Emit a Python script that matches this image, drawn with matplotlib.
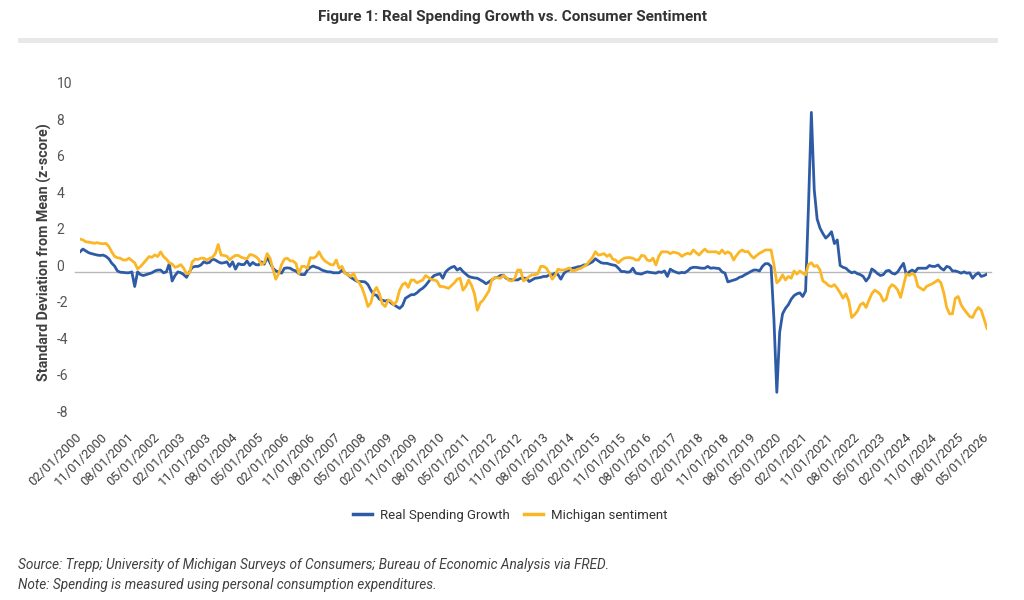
import matplotlib
matplotlib.use('Agg')
import matplotlib.pyplot as plt
from matplotlib.lines import Line2D
from matplotlib.patches import Rectangle
from matplotlib.transforms import ScaledTranslation

plt.rcParams['font.family'] = ['Roboto', 'DejaVu Sans']

# monthly z-scores, 02/2000 .. 05/2026
spending = [
    1.1, 1.25, 1.15, 1.05, 1.0, 0.96, 0.92, 0.9, 0.92, 0.85, 0.72,  # 2000
    0.48, 0.32, 0.05, -0.02, -0.03, -0.05, -0.05, 0.0, -0.8, 0.0, -0.15, -0.2,
    -0.15, -0.1, -0.05, 0.05, 0.1, 0.1, -0.05, 0.0, 0.45, -0.5, -0.2, 0.0,
    -0.05, -0.15, -0.3, 0.0, 0.25, 0.3, 0.3, 0.38, 0.55, 0.48, 0.52, 0.7,
    0.65, 0.55, 0.48, 0.5, 0.55, 0.3, 0.55, 0.15, 0.45, 0.4, 0.4, 0.6,
    0.35, 0.52, 0.4, 0.38, 0.55, 0.42, 0.8, 0.5, 0.2, 0.05, 0.0, -0.07,  # 2005
    0.2, 0.22, 0.2, 0.1, 0.05, -0.1, -0.15, -0.15, 0.1, 0.25, 0.32, 0.25,
    0.2, 0.1, 0.05, 0.0, 0.0, -0.05, -0.05, -0.05, 0.1, -0.05, -0.15, -0.3,
    -0.4, -0.5, -0.53, -0.53, -0.55, -0.7, -1.0, -1.25, -1.28, -1.5, -1.55, -1.6,
    -1.55, -1.7, -1.8, -1.9, -2.0, -1.85, -1.45, -1.35, -1.25, -1.25, -1.15, -1.0,
    -0.9, -0.75, -0.55, -0.35, -0.2, -0.15, -0.1, -0.35, 0.0, 0.15, 0.25, 0.3,  # 2010
    0.1, 0.2, 0.02, -0.12, -0.25, -0.3, -0.33, -0.35, -0.44, -0.53, -0.65, -0.55,
    -0.44, -0.33, -0.3, -0.2, -0.18, -0.35, -0.42, -0.44, -0.44, -0.44, -0.35, -0.35,
    -0.35, -0.53, -0.44, -0.35, -0.33, -0.3, -0.25, -0.25, -0.16, -0.16, -0.07, -0.15,
    -0.4, -0.1, 0.05, 0.1, 0.2, 0.23, 0.28, 0.3, 0.38, 0.38, 0.47, 0.55,
    0.72, 0.6, 0.5, 0.47, 0.47, 0.42, 0.38, 0.35, 0.2, 0.02, 0.02, -0.02,  # 2015
    0.0, 0.2, -0.07, -0.1, -0.12, -0.05, 0.0, -0.03, -0.05, -0.07, 0.0, -0.03,
    0.05, -0.25, 0.15, 0.05, -0.02, -0.07, -0.03, -0.05, 0.05, 0.2, 0.25, 0.25,
    0.22, 0.2, 0.2, 0.3, 0.2, 0.22, 0.2, 0.18, 0.0, -0.07, -0.55, -0.5,
    -0.45, -0.4, -0.3, -0.25, -0.15, -0.07, 0.02, 0.1, 0.1, 0.05, 0.3, 0.45,
    0.45, 0.3, -2.6, -6.6, -3.3, -2.3, -2.0, -1.8, -1.5, -1.3, -1.2, -1.15,  # 2020
    -1.35, -1.05, 3.6, 8.74, 4.5, 2.9, 2.4, 2.1, 1.85, 2.0, 2.2, 1.55,
    1.75, 0.35, 0.25, 0.2, 0.05, -0.05, 0.0, -0.1, -0.15, -0.25, -0.5, -0.3,
    0.16, 0.05, -0.1, -0.2, -0.15, 0.05, 0.08, -0.07, -0.12, 0.0, 0.25, 0.47,
    -0.16, 0.0, 0.1, 0.0, 0.2, 0.2, 0.2, 0.2, 0.35, 0.3, 0.3, 0.38,
    0.2, 0.1, 0.3, 0.25, 0.05, 0.05, 0.0, -0.07, 0.0, -0.07, -0.05, -0.35,  # 2025
    -0.16, -0.05, -0.25, -0.2, -0.12,
]

sentiment = [
    1.8, 1.75, 1.65, 1.63, 1.6, 1.57, 1.6, 1.56, 1.54, 1.56, 1.4,  # 2000
    1.1, 0.85, 0.77, 0.75, 0.65, 0.65, 0.75, 0.62, 0.5, 0.16, 0.29, 0.47,
    0.65, 0.84, 0.8, 0.93, 0.84, 1.1, 0.84, 0.7, 0.5, 0.43, 0.25, 0.3,
    0.4, 0.2, -0.1, -0.08, 0.55, 0.7, 0.68, 0.75, 0.75, 0.65, 0.74, 0.8,
    1.0, 1.5, 0.92, 0.9, 0.86, 0.66, 0.8, 0.9, 0.9, 0.8, 0.75, 0.72,
    0.95, 0.92, 0.84, 0.7, 0.4, 0.5, 1.0, 0.75, 0.15, -0.4, -0.1, 0.4,  # 2005
    0.7, 0.75, 0.6, 0.6, 0.45, -0.1, 0.3, 0.3, 0.2, 0.78, 0.75, 0.84,
    1.1, 0.8, 0.6, 0.5, 0.4, 0.38, 0.65, 0.2, 0.3, -0.07, -0.15, -0.25,
    -0.07, -0.45, -0.6, -0.9, -1.35, -1.9, -1.7, -1.1, -0.85, -1.2, -1.75, -1.9,
    -1.55, -1.6, -1.8, -1.6, -1.0, -0.7, -0.6, -0.85, -0.45, -0.45, -0.6, -0.52,
    -0.45, -0.2, -0.3, -0.42, -0.45, -0.5, -0.8, -0.8, -0.85, -0.9, -0.75, -0.6,  # 2010
    -0.4, -0.35, -1.0, -0.8, -0.44, -0.75, -1.2, -2.1, -1.7, -1.55, -1.3, -1.05,
    -0.44, -0.32, -0.32, -0.35, -0.2, -0.3, -0.47, -0.5, -0.35, 0.1, 0.1, -0.5,
    -0.4, -0.25, -0.16, -0.16, -0.1, 0.3, 0.3, 0.2, -0.07, -0.4, -0.2, 0.15,
    0.1, 0.1, 0.15, 0.22, 0.05, 0.08, 0.15, 0.2, 0.3, 0.4, 0.6, 0.8,
    1.1, 0.92, 0.95, 1.0, 0.85, 0.95, 0.7, 0.65, 0.5, 0.65, 0.75, 0.78,  # 2015
    0.78, 0.75, 0.65, 0.65, 0.9, 0.88, 0.65, 0.6, 0.75, 0.38, 0.85, 1.1,
    1.1, 1.1, 1.0, 1.08, 1.05, 1.0, 0.85, 0.95, 1.02, 0.97, 1.2, 1.05,
    0.92, 1.1, 1.25, 1.1, 1.1, 1.1, 1.1, 1.0, 1.2, 1.0, 1.1, 1.0,
    0.65, 0.9, 1.1, 1.2, 1.1, 1.12, 0.9, 0.75, 0.9, 1.02, 1.1, 1.2,
    1.2, 1.2, 0.4, -0.6, -0.45, -0.16, -0.44, -0.25, -0.35, 0.05, -0.12, 0.05,  # 2020
    -0.07, -0.16, 0.4, 0.5, 0.3, 0.35, 0.1, -0.5, -0.6, -0.75, -0.8, -0.7,
    -0.9, -1.15, -1.44, -1.2, -1.6, -2.5, -2.35, -2.15, -1.8, -1.7, -1.95, -1.55,
    -1.2, -1.0, -1.1, -1.25, -1.6, -1.5, -0.9, -0.7, -0.8, -1.0, -1.4, -0.75,
    -0.1, -0.2, -0.07, -0.2, -0.8, -0.9, -1.0, -0.8, -0.72, -0.65, -0.55, -0.44,
    -0.6, -1.15, -1.95, -2.3, -2.3, -1.45, -1.35, -1.8, -2.05, -2.25, -2.45, -2.5,  # 2025
    -2.15, -1.95, -2.1, -2.6, -3.1,
]

tick_labels = [
    '02/01/2000', '11/01/2000', '08/01/2001', '05/01/2002', '02/01/2003', '11/01/2003',
    '08/01/2004', '05/01/2005', '02/01/2006', '11/01/2006', '08/01/2007', '05/01/2008',
    '02/01/2009', '11/01/2009', '08/01/2010', '05/01/2011', '02/01/2012', '11/01/2012',
    '08/01/2013', '05/01/2014', '02/01/2015', '11/01/2015', '08/01/2016', '05/01/2017',
    '02/01/2018', '11/01/2018', '08/01/2019', '05/01/2020', '02/01/2021', '11/01/2021',
    '08/01/2022', '05/01/2023', '02/01/2024', '11/01/2024', '08/01/2025', '05/01/2026',
]
y_ticks = [-8, -6, -4, -2, 0, 2, 4, 6, 8, 10]

BLUE = '#2e5ba6'
GOLD = '#fbb626'
TEXT = '#404040'

fig = plt.figure(figsize=(10.24, 6), dpi=100)
ax = fig.add_axes([80 / 1024, 1 - 427 / 600, 907 / 1024, 346.75 / 600])

x = list(range(len(spending)))
ax.axhline(0, color='#b8b8b8', lw=1.0, xmin=-0.006, xmax=1.004, clip_on=False, zorder=1)
ax.plot(x, spending, color=BLUE, lw=2.0, zorder=2, solid_joinstyle='round')
ax.plot(x, sentiment, color=GOLD, lw=2.0, zorder=3, solid_joinstyle='round')

ax.set_xlim(0, len(spending) - 1)
ax.set_ylim(-8.5, 10.5)
for s in ax.spines.values():
    s.set_visible(False)

ax.set_xticks(x[::9])
ax.set_xticklabels(tick_labels, rotation=45, ha='right', va='center',
                   rotation_mode='anchor', fontsize=9.3, color=TEXT)
ax.set_yticks(y_ticks)
ax.set_yticklabels([str(v) for v in y_ticks], ha='left', fontsize=10, color='#555555')
ax.tick_params(axis='both', length=0)
ax.tick_params(axis='x', pad=6)
ax.tick_params(axis='y', pad=17)
# the value labels sit a little above their gridline in the original
shift = ScaledTranslation(0, 6.5 / 100, fig.dpi_scale_trans)
for lab in ax.get_yticklabels():
    lab.set_transform(lab.get_transform() + shift)

ax.set_ylabel('Standard Deviation from Mean (z-score)', fontsize=10.3,
              fontweight='bold', color=TEXT, va='center')
ax.yaxis.set_label_coords((44 - 80) / 907, 0.5 + 1.5 / 346.75)

handles = [Line2D([], [], color=BLUE, lw=2.5), Line2D([], [], color=GOLD, lw=2.5)]
fig.legend(handles, ['Real Spending Growth', 'Michigan sentiment'], loc='center',
           bbox_to_anchor=(510 / 1024, 1 - 515 / 600), ncol=2, frameon=False,
           fontsize=9.5, handlelength=1.45, handletextpad=0.6, columnspacing=1.1,
           labelcolor='#333333')

fig.text(512 / 1024, 1 - 17 / 600, 'Figure 1: Real Spending Growth vs. Consumer Sentiment',
         ha='center', va='center', fontsize=11, fontweight='bold', color='#333333')
fig.add_artist(Rectangle((18 / 1024, 1 - 43 / 600), 980 / 1024, 5 / 600,
                         transform=fig.transFigure, color='#e8e8e8', lw=0))

fig.text(18 / 1024, 1 - 565 / 600,
         'Source: Trepp; University of Michigan Surveys of Consumers; Bureau of Economic Analysis via FRED.',
         ha='left', va='center', fontsize=9.8, style='italic', color=TEXT)
fig.text(18 / 1024, 1 - 585 / 600,
         'Note: Spending is measured using personal consumption expenditures.',
         ha='left', va='center', fontsize=9.8, style='italic', color=TEXT)

fig.savefig('out.png', dpi=100, facecolor='white')
